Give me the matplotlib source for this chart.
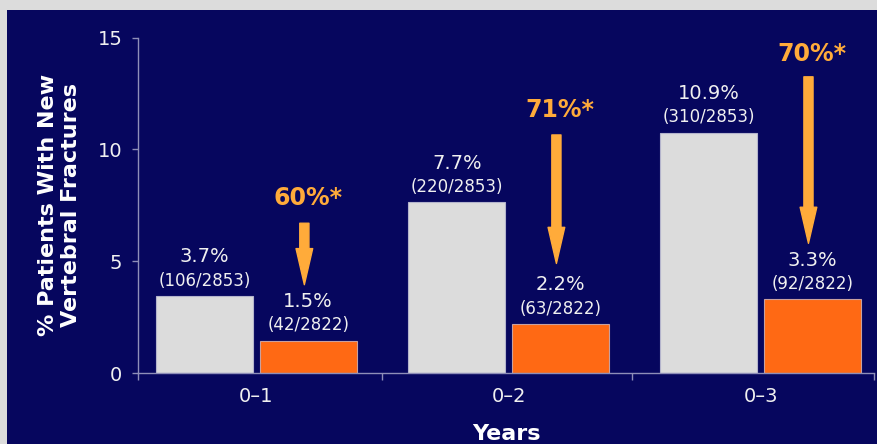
import matplotlib.pyplot as plt
from matplotlib.patches import Rectangle

# data
periods = ['0–1', '0–2', '0–3']
placebo = [3.45, 7.65, 10.75]          # bar heights, % patients
treated = [1.45, 2.2, 3.3]
placebo_pct = ['3.7%', '7.7%', '10.9%']
placebo_n = ['(106/2853)', '(220/2853)', '(310/2853)']
treated_pct = ['1.5%', '2.2%', '3.3%']
treated_n = ['(42/2822)', '(63/2822)', '(92/2822)']
reduction = ['60%*', '71%*', '70%*']
arrow_top = [6.7, 10.65, 13.25]
arrow_tip = [3.95, 4.9, 5.8]
label_y = [7.85, 11.75, 14.25]

navy = '#06065e'
grey = '#dcdcdc'
orange = '#ff6914'
gold = '#ffab3a'
axcol = '#8e8eb8'

fig = plt.figure(figsize=(8.78, 4.44), dpi=100, facecolor=grey)
fig.patches.append(Rectangle((7 / 878, 0), 1, 434 / 444, transform=fig.transFigure,
                             facecolor=navy, edgecolor='none', zorder=-10))

ax = fig.add_axes([138 / 878, 71 / 444, 736 / 878, 335.3 / 444])
ax.set_facecolor('none')

x = list(range(len(periods)))
w = 0.385
off = 0.205
xg = [i - off for i in x]
xo = [i + off for i in x]
ax.bar(xg, placebo, w, color=grey, edgecolor='#b4b4cc', linewidth=0.8, zorder=2)
ax.bar(xo, treated, w, color=orange, edgecolor='#c8a0a0', linewidth=0.8, zorder=2)

for xs, hs, pct, n in [(xg, placebo, placebo_pct, placebo_n), (xo, treated, treated_pct, treated_n)]:
    for xi, h, p, c in zip(xs, hs, pct, n):
        ax.annotate(c, (xi, h), xytext=(0, 11), textcoords='offset points',
                    ha='center', va='center', color='#f0f0f0', fontsize=12)
        ax.annotate(p, (xi, h), xytext=(0, 28), textcoords='offset points',
                    ha='center', va='center', color='#f0f0f0', fontsize=14)

# reduction arrows
for xi, t, top, tip, ly in zip(xo, reduction, arrow_top, arrow_tip, label_y):
    ax.annotate('', xy=(xi - 0.015, tip), xytext=(xi - 0.015, top),
                arrowprops=dict(arrowstyle='simple,head_length=1.3,head_width=0.6,tail_width=0.33',
                                color=gold, shrinkA=0, shrinkB=0, mutation_scale=20))
    ax.text(xi, ly, t, ha='center', va='center', color=gold, fontsize=17, fontweight='bold')

ax.set_xlim(-0.47, 2.45)
ax.set_ylim(0, 15)
ax.set_yticks([0, 5, 10, 15])
ax.set_xticks(x)
ax.set_xticklabels(periods)
ax.set_xticks([-0.47, 0.5, 1.49, 2.45], minor=True)
ax.tick_params(axis='x', which='major', length=0, pad=10, labelsize=14, labelcolor='#f0f0f0')
ax.tick_params(axis='x', which='minor', length=5, color=axcol, width=1)
ax.tick_params(axis='y', length=4.3, color=axcol, width=1, pad=7, labelsize=14, labelcolor='#f0f0f0')

for s in ['top', 'right']:
    ax.spines[s].set_visible(False)
for s in ['left', 'bottom']:
    ax.spines[s].set_color(axcol)
    ax.spines[s].set_linewidth(1)

ax.set_ylabel('% Patients With New\nVertebral Fractures', color='white', fontsize=16,
              fontweight='bold', labelpad=12)
ax.set_xlabel('Years', color='white', fontsize=16, fontweight='bold', labelpad=13)

fig.savefig('out.png', dpi=100, facecolor=fig.get_facecolor())
